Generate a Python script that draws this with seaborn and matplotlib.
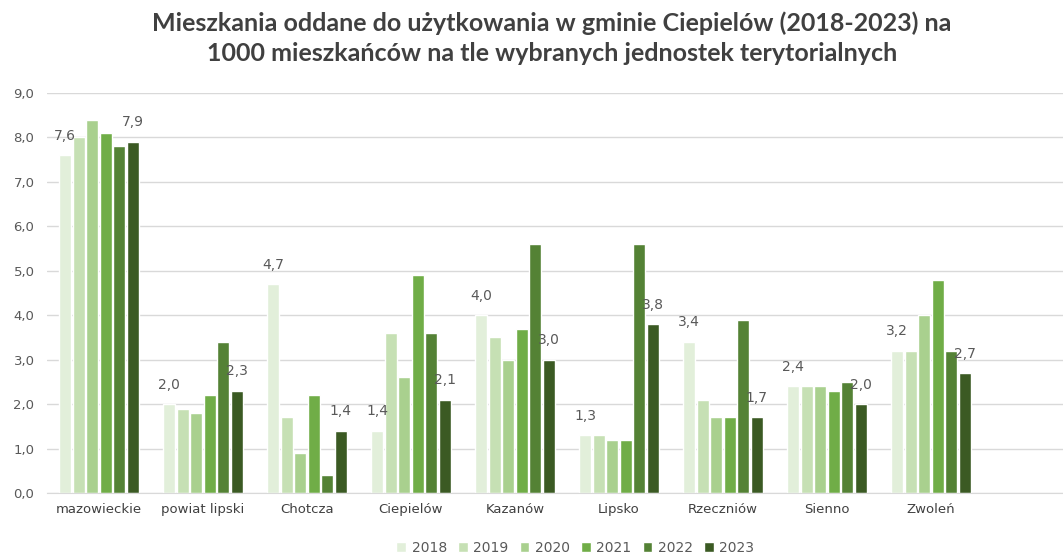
import numpy as np
import pandas as pd
import matplotlib
matplotlib.use("Agg")
import matplotlib.pyplot as plt
import seaborn as sns

units = ["mazowieckie", "powiat lipski", "Chotcza", "Ciepielów", "Kazanów",
         "Lipsko", "Rzeczniów", "Sienno", "Zwoleń"]
years = ["2018", "2019", "2020", "2021", "2022", "2023"]

v2018 = [7.6, 2.0, 4.7, 1.4, 4.0, 1.3, 3.4, 2.4, 3.2]
v2019 = [8.0, 1.9, 1.7, 3.6, 3.5, 1.3, 2.1, 2.4, 3.2]
v2020 = [8.4, 1.8, 0.9, 2.6, 3.0, 1.2, 1.7, 2.4, 4.0]
v2021 = [8.1, 2.2, 2.2, 4.9, 3.7, 1.2, 1.7, 2.3, 4.8]
v2022 = [7.8, 3.4, 0.4, 3.6, 5.6, 5.6, 3.9, 2.5, 3.2]
v2023 = [7.9, 2.3, 1.4, 2.1, 3.0, 3.8, 1.7, 2.0, 2.7]

colors = ["#E2EFDA", "#C6E0B4", "#A9D08E", "#70AD47", "#548235", "#3B5A23"]
text_grey = "#595959"

series = [v2018, v2019, v2020, v2021, v2022, v2023]
rows = []
for y, vals in zip(years, series):
    for u, v in zip(units, vals):
        rows.append({"unit": u, "year": y, "value": v})
df = pd.DataFrame(rows)

sns.set_style("white")
plt.rcParams["font.family"] = ["DejaVu Sans"]

fig = plt.figure(figsize=(10.63, 5.58), dpi=100)
ax = fig.add_axes([0.0442, 0.1165, 0.9558, 0.7168])

sns.barplot(data=df, x="unit", y="value", hue="year", hue_order=years,
            order=units, palette=colors, width=0.78, gap=0.12,
            saturation=1, ax=ax, legend=True)

# labels only for first and last year
for idx in (0, len(years) - 1):
    cont = ax.containers[idx]
    ax.bar_label(cont, labels=[f"{v:.1f}".replace(".", ",") for v in series[idx]],
                 padding=9, fontsize=10, color=text_grey)

ax.set_ylim(0, 9)
ax.set_xlim(-0.5, 9.27)
ax.set_yticks(np.arange(0, 10, 1))
ax.set_yticklabels([f"{t:.1f}".replace(".", ",") for t in np.arange(0, 10, 1)])
ax.tick_params(axis="y", length=0, pad=9, labelsize=9.5, labelcolor=text_grey)
ax.tick_params(axis="x", length=0, pad=7, labelsize=9.5, labelcolor="#404040")
ax.yaxis.grid(True, color="#D9D9D9", lw=1)
ax.set_axisbelow(True)
for s in ["top", "right", "left"]:
    ax.spines[s].set_visible(False)
ax.spines["bottom"].set_color("#D9D9D9")
ax.set_xlabel("")
ax.set_ylabel("")

fig.suptitle("Mieszkania oddane do użytkowania w gminie Ciepielów (2018-2023) na\n"
             "1000 mieszkańców na tle wybranych jednostek terytorialnych",
             x=0.519, y=0.98, fontsize=18, fontweight="bold", color="#404040",
             family=["Lato", "DejaVu Sans"], linespacing=1.4)

handles, labels = ax.get_legend_handles_labels()
ax.legend(handles, labels, loc="center", bbox_to_anchor=(0.52, -0.137),
          ncol=6, frameon=False, fontsize=10, handlelength=0.7, handleheight=0.7,
          handletextpad=0.4, columnspacing=0.8, labelcolor=text_grey)

fig.savefig("out.png", dpi=100)
